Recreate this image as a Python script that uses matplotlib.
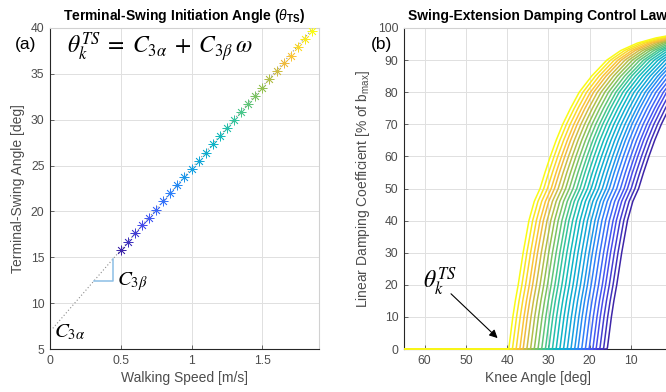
import numpy as np
import matplotlib
matplotlib.use("Agg")
import matplotlib.pyplot as plt
from matplotlib.colors import LinearSegmentedColormap

plt.rcParams.update({
    "font.family": ["Liberation Sans", "DejaVu Sans"],
    "mathtext.fontset": "custom",
    "mathtext.rm": "Liberation Sans",
    "mathtext.it": "Liberation Sans:italic",
    "mathtext.bf": "Liberation Sans:bold",
    "axes.linewidth": 0.8,
})

# Walking speeds and the terminal-swing initiation angle at each speed
speed = [0.50, 0.55, 0.60, 0.65, 0.70, 0.75, 0.80, 0.85, 0.90, 0.95,
         1.00, 1.05, 1.10, 1.15, 1.20, 1.25, 1.30, 1.35, 1.40, 1.45,
         1.50, 1.55, 1.60, 1.65, 1.70, 1.75, 1.80, 1.85]
theta_ts = [15.8, 16.7, 17.6, 18.5, 19.3, 20.2, 21.1, 22.0, 22.9, 23.7,
            24.6, 25.5, 26.4, 27.3, 28.2, 29.1, 30.0, 30.8, 31.7, 32.6,
            33.5, 34.4, 35.3, 36.2, 37.0, 37.9, 38.8, 39.7]

# Linear law coefficients
c3_alpha = 6.9
c3_beta = 17.8

# Damping profile: degrees of extension past theta_TS vs. % of b_max
profile_offset = [0.0, 0.15, 0.35, 0.7, 1.1, 1.7, 2.4, 3.0, 3.6, 4.3, 5.0,
                  6.3, 7.7, 8.9, 10.2, 11.6, 13.2, 15.1, 17.2, 20.2, 23.9,
                  27.3, 31.3, 35.8, 40.5, 47.0]
profile_pct = [0.0, 0.5, 2.5, 6.0, 10.0, 15.0, 20.0, 25.0, 30.0, 35.0, 40.0,
               46.0, 50.0, 55.0, 60.0, 65.0, 70.0, 75.0, 80.0, 85.0, 90.0,
               93.0, 95.3, 96.9, 98.0, 98.8]

knee_max = 65.0

parula = LinearSegmentedColormap.from_list("parula_like", [
    (0.00, (0.2422, 0.1504, 0.6603)),
    (0.12, (0.2760, 0.3100, 0.9400)),
    (0.25, (0.1900, 0.4900, 0.9900)),
    (0.37, (0.0800, 0.6300, 0.8800)),
    (0.50, (0.0500, 0.7200, 0.7600)),
    (0.62, (0.2500, 0.7800, 0.5700)),
    (0.75, (0.6000, 0.7500, 0.3000)),
    (0.87, (0.9800, 0.7300, 0.2400)),
    (1.00, (0.9769, 0.9839, 0.0805)),
])
n = len(speed)
colors = [parula(i / (n - 1)) for i in range(n)]

fig = plt.figure(figsize=(6.66, 3.92), dpi=100)
W, H = 666.0, 392.0

axis_dark = (0.15, 0.15, 0.15)
tick_gray = (0.30, 0.30, 0.30)
box_light = (0.82, 0.82, 0.82)
grid_col = (0.88, 0.88, 0.88)


def style_axes(ax):
    for side in ("left", "bottom"):
        ax.spines[side].set_color(axis_dark)
    for side in ("top", "right"):
        ax.spines[side].set_color(box_light)
    ax.tick_params(direction="in", length=3, width=0.6, colors=tick_gray,
                   labelsize=8.7, pad=4, top=False, right=False)
    ax.grid(True, color=grid_col, linewidth=0.7)
    ax.set_axisbelow(True)


# ---- (a) initiation angle vs speed
ax1 = fig.add_axes([50 / W, 1 - 349 / H, 269 / W, 321 / H])
style_axes(ax1)
ax1.set_xlim(0, 1.9)
ax1.set_ylim(5, 40)
ax1.set_xticks([0, 0.5, 1, 1.5])
ax1.set_xticklabels(["0", "0.5", "1", "1.5"])
ax1.set_yticks(np.arange(5, 41, 5))

w_line = np.array([0.02, speed[-1]])
ax1.plot(w_line, c3_alpha + c3_beta * w_line, linestyle=(0, (1, 2)),
         color=(0.55, 0.55, 0.55), linewidth=0.8, zorder=2)

tri_w0, tri_w1 = 0.312, 0.446
tri_y0 = c3_alpha + c3_beta * tri_w0
tri_y1 = c3_alpha + c3_beta * tri_w1
ax1.plot([tri_w0, tri_w1, tri_w1], [tri_y0, tri_y0, tri_y1],
         color=(0.55, 0.75, 0.90), linewidth=1.1, zorder=2)

for w, th, c in zip(speed, theta_ts, colors):
    ax1.plot(w, th, marker=(8, 2, 0), markersize=7, markeredgewidth=0.55,
             color=c, linestyle="none", zorder=3)
    ax1.plot(w, th, marker="o", markersize=1.6, markeredgewidth=0,
             color=c, linestyle="none", zorder=3)

ax1.set_xlabel("Walking Speed [m/s]", fontsize=10, color=tick_gray, labelpad=3)
ax1.set_ylabel("Terminal-Swing Angle [deg]", fontsize=10, color=tick_gray,
               labelpad=4)
ax1.set_title(r"Terminal-Swing Initiation Angle ($\theta_{\mathbf{TS}}$)",
              fontsize=10, fontweight="bold", color="black", pad=6)

ax1.text(0.065, 0.94,
         r"$\theta_k^{TS}\;=\;C_{3\alpha}\;+\;C_{3\beta}\,\omega$",
         transform=ax1.transAxes, fontsize=17, ha="left", va="center",
         math_fontfamily="stix")
ax1.text(0.47, 12.3, r"$C_{3\beta}$", fontsize=15, ha="left", va="center",
         math_fontfamily="stix")
ax1.text(0.03, 6.8, r"$C_{3\alpha}$", fontsize=15, ha="left", va="center",
         math_fontfamily="stix")

# ---- (b) damping control law vs knee angle
ax2 = fig.add_axes([404 / W, 1 - 349 / H, 268 / W, 321 / H])
style_axes(ax2)
ax2.set_xlim(knee_max, 0)
ax2.set_ylim(0, 100)
ax2.set_xticks(np.arange(10, 61, 10))
ax2.set_yticks(np.arange(0, 101, 10))

offs = np.array(profile_offset)
pct = np.array(profile_pct)
for th, c in zip(theta_ts, colors):
    xs = np.concatenate([[knee_max], th - offs])
    ys = np.concatenate([[0.0], pct])
    ax2.plot(xs, ys, color=c, linewidth=1.1, clip_on=False, zorder=3,
             solid_capstyle="butt")

ax2.set_xlabel("Knee Angle [deg]", fontsize=10, color=tick_gray, labelpad=3)
ax2.set_ylabel(r"Linear Damping Coefficient [% of b$_{\mathrm{max}}$]",
               fontsize=10, color=tick_gray, labelpad=4)
ax2.set_title("Swing-Extension Damping Control Law", fontsize=10,
              fontweight="bold", color="black", pad=6)

ax2.text(56.4, 20.8, r"$\theta_k^{TS}$", fontsize=17, ha="center",
         va="center", math_fontfamily="stix")
ax2.annotate("", xy=(42.3, 3.4), xytext=(53.6, 17.2),
             arrowprops=dict(arrowstyle="-|>", color="black", lw=0.8,
                             mutation_scale=12, shrinkA=0, shrinkB=0))

fig.text(26 / W, 1 - 45 / H, "(a)", fontsize=12.5, ha="center", va="center")
fig.text(381 / W, 1 - 45 / H, "(b)", fontsize=12.5, ha="center", va="center")

fig.savefig("out.png", dpi=100)
